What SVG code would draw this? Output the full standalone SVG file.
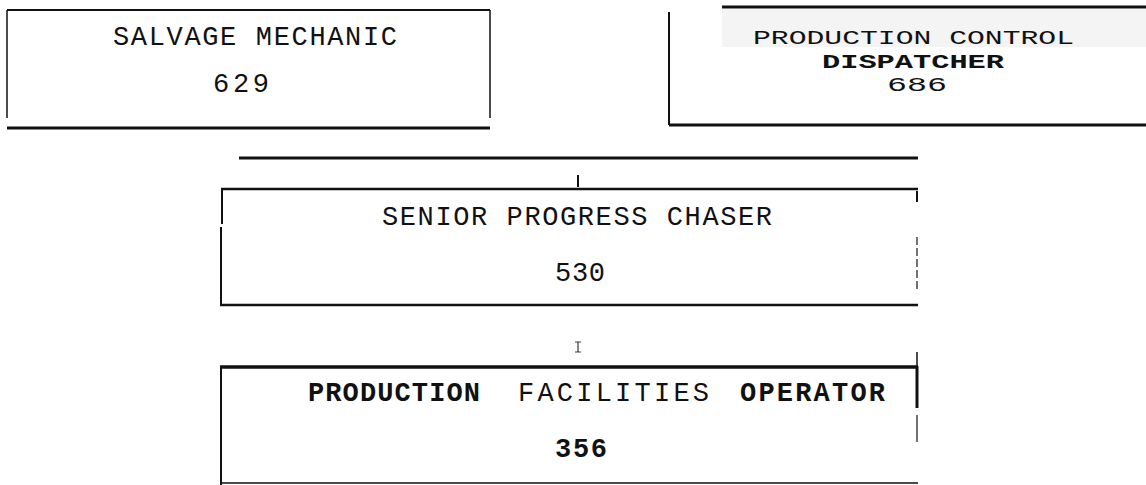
<svg xmlns="http://www.w3.org/2000/svg" width="1146" height="485" viewBox="0 0 1146 485">
<style>
.t{font-family:"Liberation Mono","DejaVu Sans Mono",monospace;font-size:27px;fill:#111}
.s{font-size:21px}
.b{font-weight:bold}
.ln{stroke:#111;fill:none;stroke-linecap:butt}
</style>
<rect x="0" y="0" width="1146" height="485" fill="#fff"/>
<g id="salvage-mechanic">
<line class="ln" x1="7" y1="10" x2="490" y2="10" stroke-width="2"/>
<line class="ln" x1="7" y1="10" x2="7" y2="118" stroke-width="1.5"/>
<line class="ln" x1="490" y1="10" x2="490" y2="118" stroke-width="1.5"/>
<line class="ln" x1="7" y1="128" x2="490" y2="128" stroke-width="3"/>
<text class="t" x="113" y="45" textLength="284" lengthAdjust="spacing">SALVAGE MECHANIC</text>
<text class="t" x="213" y="92" textLength="56" lengthAdjust="spacing">629</text>
</g>
<g id="production-control-dispatcher">
<rect x="722" y="9" width="424" height="38" fill="#f4f4f4"/>
<line class="ln" x1="722" y1="7" x2="1146" y2="7" stroke-width="3"/>
<line class="ln" x1="669" y1="12" x2="669" y2="125" stroke-width="2"/>
<line class="ln" x1="669" y1="125" x2="1146" y2="125" stroke-width="3"/>
<text class="t s" x="753" y="44" textLength="321" lengthAdjust="spacingAndGlyphs">PRODUCTION CONTROL</text>
<text class="t s b" x="822" y="68" textLength="182" lengthAdjust="spacingAndGlyphs">DISPATCHER</text>
<text class="t s" x="887" y="91" textLength="60" lengthAdjust="spacingAndGlyphs">686</text>
</g>
<g id="connectors">
<line class="ln" x1="239" y1="158" x2="918" y2="158" stroke-width="3"/>
<line class="ln" x1="578" y1="175" x2="578" y2="187" stroke-width="2"/>
<line class="ln" x1="578" y1="342" x2="578" y2="352" stroke-width="1"/>
<line class="ln" x1="575" y1="342" x2="581" y2="342" stroke-width="0.8"/>
<line class="ln" x1="575" y1="352" x2="581" y2="352" stroke-width="0.8"/>
</g>
<g id="senior-progress-chaser">
<line class="ln" x1="221" y1="189" x2="918" y2="189" stroke-width="2.5"/>
<line class="ln" x1="222" y1="189" x2="222" y2="224" stroke-width="2"/>
<line class="ln" x1="221" y1="227" x2="221" y2="306" stroke-width="2"/>
<line class="ln" x1="220" y1="305" x2="918" y2="305" stroke-width="2.5"/>
<line class="ln" x1="917" y1="191" x2="917" y2="202" stroke-width="2"/>
<line x1="917" y1="237" x2="917" y2="292" stroke="#444" stroke-width="1.5" stroke-dasharray="8 3"/>
<text class="t" x="382" y="225" textLength="390" lengthAdjust="spacing">SENIOR PROGRESS CHASER</text>
<text class="t" x="555" y="281" textLength="50" lengthAdjust="spacing">530</text>
</g>
<g id="production-facilities-operator">
<line class="ln" x1="220" y1="367" x2="918" y2="367" stroke-width="3.5"/>
<line class="ln" x1="221" y1="367" x2="221" y2="485" stroke-width="2"/>
<line class="ln" x1="220" y1="483" x2="918" y2="483" stroke-width="1.5"/>
<line class="ln" x1="917" y1="352" x2="917" y2="366" stroke-width="1.5"/>
<line class="ln" x1="917" y1="366" x2="917" y2="408" stroke-width="3"/>
<line class="ln" x1="917" y1="415" x2="917" y2="442" stroke-width="1.2"/>
<text class="t b" x="308" y="401" textLength="172" lengthAdjust="spacing">PRODUCTION</text>
<text class="t" x="518" y="401" textLength="191" lengthAdjust="spacing">FACILITIES</text>
<text class="t b" x="740" y="401" textLength="145" lengthAdjust="spacing">OPERATOR</text>
<text class="t b" x="555" y="457" textLength="52" lengthAdjust="spacing">356</text>
</g>
</svg>
